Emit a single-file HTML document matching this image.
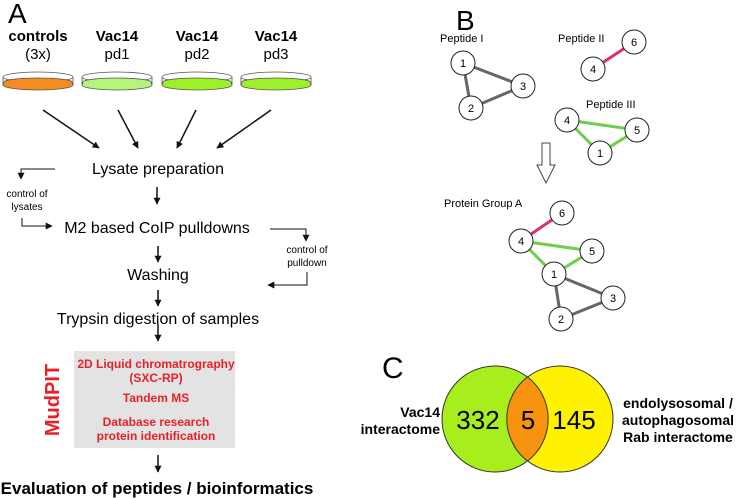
<!DOCTYPE html>
<html><head><meta charset="utf-8"><style>
html,body{margin:0;padding:0;background:#fff;}
svg{display:block;font-family:"Liberation Sans",Arial,sans-serif;}
</style></head><body>
<svg width="740" height="498" viewBox="0 0 740 498" xmlns="http://www.w3.org/2000/svg">
<defs>
<marker id="ah" viewBox="0 0 10 10" refX="9" refY="5" markerWidth="7" markerHeight="7" orient="auto-start-reverse" markerUnits="userSpaceOnUse"><path d="M0,0 L10,5 L0,10 z" fill="#111"/></marker>
</defs>
<!-- Panel A -->
<text x="8" y="23" font-size="28">A</text>
<g font-size="15" text-anchor="middle">
<text x="38" y="41" font-weight="bold">controls</text><text x="38" y="59">(3x)</text>
<text x="117" y="41" font-weight="bold">Vac14</text><text x="117" y="59">pd1</text>
<text x="197" y="41" font-weight="bold">Vac14</text><text x="197" y="59">pd2</text>
<text x="276" y="41" font-weight="bold">Vac14</text><text x="276" y="59">pd3</text>
</g>
<g stroke="#555" stroke-width="0.8">
<g transform="translate(38,0)"><ellipse cx="0" cy="77" rx="35" ry="5" fill="#fff"/><path d="M-34,82 A34,4 0 0 1 34,82 L35,85 A35,5 0 0 1 -35,85 Z" fill="#f68b1f"/><path d="M-35,77 L-35,85 M35,77 L35,85" fill="none"/></g>
<g transform="translate(117,0)"><ellipse cx="0" cy="77" rx="35" ry="5" fill="#fff"/><path d="M-34,82 A34,4 0 0 1 34,82 L35,85 A35,5 0 0 1 -35,85 Z" fill="#b5f57a"/><path d="M-35,77 L-35,85 M35,77 L35,85" fill="none"/></g>
<g transform="translate(197,0)"><ellipse cx="0" cy="77" rx="35" ry="5" fill="#fff"/><path d="M-34,82 A34,4 0 0 1 34,82 L35,85 A35,5 0 0 1 -35,85 Z" fill="#9ef02a"/><path d="M-35,77 L-35,85 M35,77 L35,85" fill="none"/></g>
<g transform="translate(276,0)"><ellipse cx="0" cy="77" rx="35" ry="5" fill="#fff"/><path d="M-34,82 A34,4 0 0 1 34,82 L35,85 A35,5 0 0 1 -35,85 Z" fill="#9ef02a"/><path d="M-35,77 L-35,85 M35,77 L35,85" fill="none"/></g>
</g>
<g stroke="#111" stroke-width="1.5" marker-end="url(#ah)" fill="none">
<line x1="43" y1="110" x2="99" y2="148"/>
<line x1="118" y1="110" x2="138" y2="148"/>
<line x1="196" y1="110" x2="177" y2="148"/>
<line x1="271" y1="110" x2="217" y2="148"/>
<line x1="157" y1="187" x2="157" y2="204"/>
<line x1="158" y1="246" x2="158" y2="262"/>
<line x1="158" y1="290" x2="158" y2="306"/>
<line x1="158" y1="324" x2="158" y2="341"/>
<line x1="158" y1="455" x2="158" y2="472"/>
</g>
<g stroke="#111" stroke-width="1" fill="none">
<path d="M55,169 L21,169 L21,179" marker-end="url(#ah)"/>
<path d="M22,218 L22,226 L52,226" marker-end="url(#ah)"/>
<path d="M270,229 L306,229 L306,241" marker-end="url(#ah)"/>
<path d="M307,272 L307,285 L268,285" marker-end="url(#ah)"/>
</g>
<g font-size="16" text-anchor="middle">
<text x="158" y="174">Lysate preparation</text>
<text x="157" y="233">M2 based CoIP pulldowns</text>
<text x="158" y="280">Washing</text>
<text x="158" y="324">Trypsin digestion of samples</text>
</g>
<g font-size="10" text-anchor="middle">
<text x="27" y="197">control of</text><text x="27" y="210">lysates</text>
<text x="307" y="253">control of</text><text x="307" y="266">pulldown</text>
</g>
<rect x="74" y="351" width="161" height="97" fill="#e3e3e3"/>
<g font-size="12" font-weight="bold" fill="#e8202a" text-anchor="middle">
<text x="156" y="368">2D Liquid chromatrography</text>
<text x="156" y="382">(SXC-RP)</text>
<text x="156" y="402">Tandem MS</text>
<text x="156" y="426">Database research</text>
<text x="156" y="440">protein identification</text>
</g>
<text transform="translate(59,400) rotate(-90)" font-size="20" font-weight="bold" fill="#e8202a" text-anchor="middle">MudPIT</text>
<text x="157" y="494" font-size="17" font-weight="bold" text-anchor="middle">Evaluation of peptides / bioinformatics</text>
<!-- Panel B -->
<text x="456" y="30" font-size="28">B</text>
<g font-size="11">
<text x="440" y="42">Peptide I</text>
<text x="558" y="42">Peptide II</text>
<text x="586" y="108">Peptide III</text>
<text x="444" y="207">Protein Group A</text>
</g>
<g stroke-width="3" fill="none">
<line x1="463" y1="63" x2="523" y2="86" stroke="#666"/><line x1="463" y1="63" x2="471" y2="108" stroke="#666"/><line x1="523" y1="86" x2="471" y2="108" stroke="#666"/>
<line x1="634" y1="42" x2="593" y2="69" stroke="#e0306a"/>
<line x1="567" y1="120" x2="637" y2="130" stroke="#6cd04a"/><line x1="567" y1="120" x2="600" y2="153" stroke="#6cd04a"/><line x1="637" y1="130" x2="600" y2="153" stroke="#6cd04a"/>
<line x1="562" y1="213" x2="521" y2="241" stroke="#e0306a"/>
<line x1="521" y1="241" x2="592" y2="251" stroke="#6cd04a"/><line x1="521" y1="241" x2="554" y2="274" stroke="#6cd04a"/><line x1="592" y1="251" x2="554" y2="274" stroke="#6cd04a"/>
<line x1="554" y1="274" x2="613" y2="298" stroke="#666"/><line x1="554" y1="274" x2="561" y2="319" stroke="#666"/><line x1="613" y1="298" x2="561" y2="319" stroke="#666"/>
</g>
<g fill="#fff" stroke="#222" stroke-width="1">
<circle cx="463" cy="63" r="12"/><circle cx="523" cy="86" r="12"/><circle cx="471" cy="108" r="12"/>
<circle cx="634" cy="42" r="12"/><circle cx="593" cy="69" r="12"/>
<circle cx="567" cy="120" r="12"/><circle cx="637" cy="130" r="12"/><circle cx="600" cy="153" r="12"/>
<circle cx="562" cy="213" r="12"/><circle cx="521" cy="241" r="12"/><circle cx="592" cy="251" r="12"/><circle cx="554" cy="274" r="12"/><circle cx="613" cy="298" r="12"/><circle cx="561" cy="319" r="12"/>
</g>
<g font-size="11" text-anchor="middle">
<text x="463" y="67">1</text><text x="523" y="90">3</text><text x="471" y="112">2</text>
<text x="634" y="46">6</text><text x="593" y="73">4</text>
<text x="567" y="124">4</text><text x="637" y="134">5</text><text x="600" y="157">1</text>
<text x="562" y="217">6</text><text x="521" y="245">4</text><text x="592" y="255">5</text><text x="554" y="278">1</text><text x="613" y="302">3</text><text x="561" y="323">2</text>
</g>
<path d="M542,143 L550,143 L550,165 L555,165 L546,183 L537,165 L542,165 Z" fill="#fff" stroke="#444" stroke-width="1"/>
<!-- Panel C -->
<text x="382" y="378" font-size="30">C</text>
<circle cx="495" cy="419" r="53" fill="#a8ee1c" stroke="#333" stroke-width="1"/>
<circle cx="560" cy="419" r="53" fill="#fff200" stroke="#333" stroke-width="1"/>
<path d="M527.5,377 A53,53 0 0 1 527.5,461 A53,53 0 0 1 527.5,377 Z" fill="#f7930e" stroke="#333" stroke-width="1"/>
<g font-size="26" text-anchor="middle">
<text x="478" y="429">332</text><text x="528" y="429">5</text><text x="574" y="429">145</text>
</g>
<g font-size="14" font-weight="bold">
<text x="440" y="417" text-anchor="end">Vac14</text>
<text x="440" y="434" text-anchor="end">interactome</text>
<text x="678" y="408" text-anchor="middle">endolysosomal /</text>
<text x="678" y="425" text-anchor="middle">autophagosomal</text>
<text x="678" y="442" text-anchor="middle">Rab interactome</text>
</g>
</svg>
</body></html>
